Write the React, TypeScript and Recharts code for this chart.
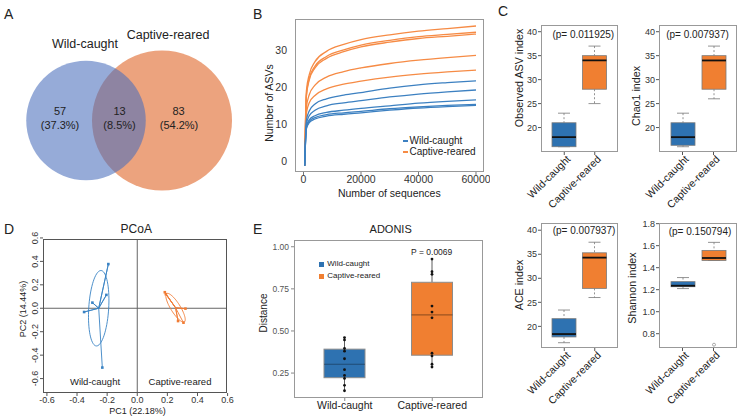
import React from "react";
import {
  Bar,
  Cell,
  ComposedChart,
  Line,
  LineChart,
  ReferenceLine,
  Scatter,
  ScatterChart,
  XAxis,
  YAxis,
  ZAxis,
} from "recharts";

const FONT = '"Liberation Sans", Arial, Helvetica, sans-serif';
const BLUE = "#2e72b1";
const ORANGE = "#f07f31";
const LINE_BLUE = "#3c80c1";
const LINE_ORANGE = "#f68b45";

// ---- A: ASV overlap between the two groups
const groups = ["Wild-caught", "Captive-reared"];
const uniqueAsvs = [57, 83];
const sharedAsvs = 13;

// ---- B: rarefaction curves (ASVs observed vs. sequencing depth)
const depths = [400, 1000, 2000, 4000, 8000, 14000, 20000, 30000, 40000, 50000, 60000];
const wildCurves = [
  [-1.3, 11, 13.6, 15.5, 16.9, 17.9, 18.6, 19.8, 20.7, 21.3, 21.8],
  [-1.3, 10, 12.3, 13.8, 15, 15.8, 16.4, 17.4, 18.2, 18.8, 19.3],
  [-1.3, 9.3, 11.2, 12.3, 13.2, 13.8, 14.3, 15.0, 15.7, 16.2, 16.6],
  [-1.3, 9, 10.8, 11.8, 12.6, 13.1, 13.5, 14.2, 14.7, 15.1, 15.4],
  [-1.3, 8.7, 10.4, 11.4, 12.2, 12.7, 13.1, 13.8, 14.4, 14.8, 15.1],
];
const captiveCurves = [
  [-1.3, 19, 23.5, 27, 29.8, 31.7, 33, 34.3, 35.3, 36.0, 36.7],
  [-1.3, 18, 22.5, 25.8, 28.4, 30.2, 31.5, 32.8, 33.8, 34.4, 35.0],
  [-1.3, 17.5, 22, 25.3, 27.9, 29.7, 31.0, 32.3, 33.3, 33.9, 34.5],
  [-1.3, 14.5, 18, 20.6, 22.8, 24.3, 25.3, 26.5, 27.4, 28.1, 28.7],
  [-1.3, 13, 15.8, 17.8, 19.6, 20.9, 21.7, 22.8, 23.6, 24.2, 24.7],
];
const rareXTicks = [0, 20000, 40000, 60000];
const rareYTicks = [0, 10, 20, 30];

// ---- C: alpha diversity, box stats as [min, q1, median, q3, max]
const observedStats = [[16, 16, 18, 21, 23], [25, 28, 34, 35, 37]];
const chao1Stats = [[16, 16.3, 18, 21, 23], [26, 28, 34, 35, 37]];
const aceStats = [[16.6, 17.8, 18.4, 21.6, 23.4], [26, 27.9, 34.3, 35.3, 37.5]];
const shannonStats = [[1.21, 1.227, 1.236, 1.273, 1.31], [1.466, 1.466, 1.488, 1.557, 1.63]];
const shannonOutliers = [[], [0.7]];
const richnessTicks = [20, 25, 30, 35, 40];
const shannonTicks = [0.8, 1.0, 1.2, 1.4, 1.6, 1.8];
const pValues = ["0.011925", "0.007937", "0.007937", "0.150794"];

// ---- D: PCoA sample scores (PC1, PC2)
const wildScores = [[-0.192, 0.377], [-0.205, 0.114], [-0.298, 0.048], [-0.353, -0.032], [-0.232, -0.506]];
const captiveScores = [[0.183, 0.137], [0.19, 0.12], [0.32, -0.003], [0.271, -0.109], [0.307, -0.123]];
const pcoaTicks = [-0.6, -0.4, -0.2, 0, 0.2, 0.4, 0.6];

// ---- E: within-group Bray-Curtis distances
const wildDistances = [0.461, 0.447, 0.396, 0.38, 0.335, 0.27, 0.236, 0.218, 0.177, 0.145];
const captiveDistances = [0.927, 0.852, 0.836, 0.648, 0.612, 0.578, 0.368, 0.352, 0.303, 0.286];
const distanceTicks = [0.25, 0.5, 0.75, 1.0];

// ---------- helpers ----------
const Txt = ({ x, y, size, rot = 0, color = "#222", children }: any) => (
  <div
    style={{
      position: "absolute",
      left: x,
      top: y,
      transform: `translate(-50%, -50%) rotate(${rot}deg)`,
      fontSize: size,
      lineHeight: 1,
      whiteSpace: "nowrap",
      color,
    }}
  >
    {children}
  </div>
);

const LeftTxt = ({ x, y, size, color = "#222", children }: any) => (
  <div
    style={{
      position: "absolute",
      left: x,
      top: y,
      transform: "translate(0, -50%)",
      fontSize: size,
      lineHeight: 1,
      whiteSpace: "nowrap",
      color,
    }}
  >
    {children}
  </div>
);

const Frame = ({ l, t, r, b, color = "#999" }: any) => (
  <div
    style={{
      position: "absolute",
      left: l,
      top: t,
      width: r - l,
      height: b - t,
      border: `1px solid ${color}`,
      boxSizing: "border-box",
      pointerEvents: "none",
    }}
  />
);

const At = ({ left, top, children }: any) => (
  <div style={{ position: "absolute", left, top }}>{children}</div>
);

const quantile = (sorted: number[], p: number) => {
  const h = (sorted.length - 1) * p;
  const lo = Math.floor(h);
  const hi = Math.min(lo + 1, sorted.length - 1);
  return sorted[lo] + (h - lo) * (sorted[hi] - sorted[lo]);
};

// 1-sd ellipse of a point cloud (as ordiellipse kind = "sd")
const sdEllipse = (pts: number[][], steps = 72) => {
  const n = pts.length;
  const mx = pts.reduce((s, p) => s + p[0], 0) / n;
  const my = pts.reduce((s, p) => s + p[1], 0) / n;
  let sxx = 0, syy = 0, sxy = 0;
  pts.forEach(([x, y]) => {
    sxx += (x - mx) ** 2;
    syy += (y - my) ** 2;
    sxy += (x - mx) * (y - my);
  });
  sxx /= n - 1; syy /= n - 1; sxy /= n - 1;
  const half = (sxx + syy) / 2;
  const root = Math.sqrt(Math.max(half * half - (sxx * syy - sxy * sxy), 0));
  const a = Math.sqrt(half + root);
  const b = Math.sqrt(Math.max(half - root, 0));
  const th = 0.5 * Math.atan2(2 * sxy, sxx - syy);
  return Array.from({ length: steps + 1 }, (_, i) => {
    const t = (2 * Math.PI * i) / steps;
    return {
      x: mx + a * Math.cos(t) * Math.cos(th) - b * Math.sin(t) * Math.sin(th),
      y: my + a * Math.cos(t) * Math.sin(th) + b * Math.sin(t) * Math.cos(th),
    };
  });
};

const centroid = (pts: number[][]) => ({
  x: pts.reduce((s, p) => s + p[0], 0) / pts.length,
  y: pts.reduce((s, p) => s + p[1], 0) / pts.length,
});

const spider = (pts: number[][]) => {
  const c = centroid(pts);
  return pts.flatMap(([x, y]) => [c, { x, y }]);
};

const Nothing = () => <g />;

// ---------- A ----------
const vennData = groups.map((g, i) => ({ group: g, x: i, y: 0, n: uniqueAsvs[i] + sharedAsvs }));
const vennTotal = uniqueAsvs[0] + uniqueAsvs[1] + sharedAsvs;
const pct = (v: number) => `(${((v / vennTotal) * 100).toFixed(1)}%)`;

const VennCircle = ({ cx, cy, width, fill, opacity }: any) => (
  <circle cx={cx} cy={cy} r={width / 2} fill={fill} fillOpacity={opacity} />
);

function VennPanel() {
  return (
    <>
      <At left={0} top={0}>
        <ScatterChart width={240} height={210} margin={{ top: 0, right: 0, bottom: 0, left: 0 }}>
          <XAxis type="number" dataKey="x" hide domain={[-1.1316, 2.0263]} allowDataOverflow />
          <YAxis type="number" dataKey="y" hide domain={[-0.7427, 1]} allowDataOverflow />
          <ZAxis type="number" dataKey="n" domain={[0, 96]} range={[0, Math.PI * 70 * 70]} />
          <Scatter
            data={[vennData[1]]}
            isAnimationActive={false}
            shape={(p: any) => <VennCircle {...p} fill="#eca37e" opacity={1} />}
          />
          <Scatter
            data={[vennData[0]]}
            isAnimationActive={false}
            shape={(p: any) => <VennCircle {...p} fill="#4a6ebc" opacity={0.58} />}
          />
        </ScatterChart>
      </At>
      <Txt x={85} y={44} size={12.5}>{groups[0]}</Txt>
      <Txt x={168} y={35} size={12.5}>{groups[1]}</Txt>
      <Txt x={60} y={111} size={11}>{uniqueAsvs[0]}</Txt>
      <Txt x={60} y={124.5} size={11}>{pct(uniqueAsvs[0])}</Txt>
      <Txt x={119.5} y={111} size={11}>{sharedAsvs}</Txt>
      <Txt x={119.5} y={124.5} size={11}>{pct(sharedAsvs)}</Txt>
      <Txt x={178.5} y={111} size={11}>{uniqueAsvs[1]}</Txt>
      <Txt x={179} y={124.5} size={11}>{pct(uniqueAsvs[1])}</Txt>
    </>
  );
}

// ---------- B ----------
const rareRows = depths.map((d, i) => {
  const row: Record<string, number> = { depth: d };
  wildCurves.forEach((c, j) => (row[`w${j}`] = c[i]));
  captiveCurves.forEach((c, j) => (row[`c${j}`] = c[i]));
  return row;
});

function RarefactionPanel() {
  return (
    <>
      <At left={240} top={0}>
        <LineChart width={250} height={205} data={rareRows} margin={{ top: 19, right: 6, left: 25, bottom: 8 }}>
          <XAxis
            type="number"
            dataKey="depth"
            domain={[-2957, 62783]}
            allowDataOverflow
            ticks={rareXTicks}
            height={25}
            axisLine={false}
            tickSize={3}
            tickMargin={1}
            tickLine={{ stroke: "#777" }}
            tick={{ fontSize: 10.5, fill: "#333", fontFamily: FONT }}
          />
          <YAxis
            type="number"
            domain={[-3, 38.6]}
            allowDataOverflow
            ticks={rareYTicks}
            width={30}
            axisLine={false}
            tickLine={false}
            tickMargin={2}
            tick={{ fontSize: 10.5, fill: "#333", fontFamily: FONT }}
          />
          {captiveCurves.map((_, j) => (
            <Line key={`c${j}`} dataKey={`c${j}`} type="monotone" stroke={LINE_ORANGE} strokeWidth={1.3} dot={false} isAnimationActive={false} />
          ))}
          {wildCurves.map((_, j) => (
            <Line key={`w${j}`} dataKey={`w${j}`} type="monotone" stroke={LINE_BLUE} strokeWidth={1.3} dot={false} isAnimationActive={false} />
          ))}
        </LineChart>
      </At>
      <Frame l={295} t={19} r={484} b={172} color="#999" />
      <Txt x={268.5} y={103} size={10.5} rot={-90}>Number of ASVs</Txt>
      <Txt x={389.3} y={192.5} size={10.5}>Number of sequences</Txt>
      <div style={{ position: "absolute", left: 403, top: 140.3, width: 5, height: 1.5, background: LINE_BLUE }} />
      <div style={{ position: "absolute", left: 403, top: 151, width: 5, height: 1.5, background: LINE_ORANGE }} />
      <LeftTxt x={409.5} y={141} size={10}>{groups[0]}</LeftTxt>
      <LeftTxt x={409.5} y={151.7} size={10}>{groups[1]}</LeftTxt>
    </>
  );
}

// ---------- C ----------
const RBox = (props: any) => {
  const { x, y, width, height, payload, fill } = props;
  const top = Math.min(y, y + height);
  const h = Math.abs(height);
  const k = h / (payload.q3 - payload.q1);
  const py = (v: number) => top + (payload.q3 - v) * k;
  const cx = x + width / 2;
  const cap = width / 4;
  return (
    <g>
      <line x1={cx} x2={cx} y1={py(payload.max)} y2={top} stroke="#777" strokeWidth={0.8} strokeDasharray="2 2" />
      <line x1={cx} x2={cx} y1={top + h} y2={py(payload.min)} stroke="#777" strokeWidth={0.8} strokeDasharray="2 2" />
      <line x1={cx - cap} x2={cx + cap} y1={py(payload.max)} y2={py(payload.max)} stroke="#777" strokeWidth={0.8} />
      <line x1={cx - cap} x2={cx + cap} y1={py(payload.min)} y2={py(payload.min)} stroke="#777" strokeWidth={0.8} />
      <rect x={x} y={top} width={width} height={h} fill={fill} stroke="#7a7a7a" strokeWidth={0.8} />
      <line x1={x} x2={x + width} y1={py(payload.med)} y2={py(payload.med)} stroke="#111" strokeWidth={1.8} />
      {(payload.out || []).map((v: number, i: number) => (
        <circle key={i} cx={cx} cy={py(v)} r={1.5} fill="none" stroke="#888" strokeWidth={0.7} />
      ))}
    </g>
  );
};

const SlantTick = ({ x, y, payload }: any) => (
  <text
    x={x + 4}
    y={y + 2}
    transform={`rotate(-45 ${x + 4} ${y + 2})`}
    textAnchor="end"
    dominantBaseline="central"
    fontSize={10.5}
    fill="#222"
    fontFamily={FONT}
  >
    {payload.value}
  </text>
);

const boxRows = (stats: number[][], outliers: number[][] = [[], []]) =>
  groups.map((g, i) => ({
    group: g,
    min: stats[i][0],
    q1: stats[i][1],
    med: stats[i][2],
    q3: stats[i][3],
    max: stats[i][4],
    out: outliers[i],
  }));

function AlphaBox({ frame, rows, domain, ticks, digits, label, labelPos, p, pPos }: any) {
  const [l, t, r, b] = frame;
  const w = r - l + 43;
  const h = b - t + 75;
  return (
    <>
      <At left={l - 41} top={t - 10}>
        <ComposedChart width={w} height={h} data={rows} margin={{ top: 10, right: 2, left: 0, bottom: h - 10 - (b - t) - 55 }}>
          <XAxis
            dataKey="group"
            type="category"
            interval={0}
            height={55}
            padding={{ left: 8, right: 8 }}
            axisLine={false}
            tickSize={3}
            tickMargin={0}
            tickLine={{ stroke: "#555" }}
            tick={(tp: any) => <SlantTick {...tp} />}
          />
          <YAxis
            type="number"
            domain={domain}
            allowDataOverflow
            ticks={ticks}
            width={41}
            axisLine={false}
            tickSize={3}
            tickMargin={1}
            tickLine={{ stroke: "#555" }}
            tickFormatter={(v: number) => v.toFixed(digits)}
            tick={{ fontSize: 9, fill: "#333", fontFamily: FONT }}
          />
          <Bar dataKey={(d: any) => [d.q1, d.q3]} barSize={24} shape={(bp: any) => <RBox {...bp} />} isAnimationActive={false}>
            {rows.map((_: any, i: number) => (
              <Cell key={i} fill={i === 0 ? BLUE : ORANGE} />
            ))}
          </Bar>
        </ComposedChart>
      </At>
      <Frame l={l} t={t} r={r} b={b} color="#999" />
      <Txt x={labelPos[0]} y={labelPos[1]} size={10.7} rot={-90}>{label}</Txt>
      <Txt x={pPos[0]} y={pPos[1]} size={10}>{`(p= ${p})`}</Txt>
    </>
  );
}

// ---------- D ----------
const toXY = (pts: number[][]) => pts.map(([x, y]) => ({ x, y }));

const VertTick = ({ x, y, payload }: any) => (
  <text
    x={x - 1}
    y={y}
    transform={`rotate(-90 ${x - 1} ${y})`}
    textAnchor="middle"
    fontSize={9}
    fill="#333"
    fontFamily={FONT}
  >
    {Number(payload.value).toFixed(1)}
  </text>
);

const Dot = (color: string) => (p: any) => (
  <rect x={p.cx - 1.3} y={p.cy - 1.3} width={2.6} height={2.6} fill={color} />
);

function PcoaPanel() {
  const D_BLUE = "#3a83c4";
  const D_ORANGE = "#f07c35";
  return (
    <>
      <At left={0} top={210}>
        <ScatterChart width={240} height={206} margin={{ top: 29, right: 13, left: 13, bottom: 3 }}>
          <XAxis
            type="number"
            dataKey="x"
            domain={[-0.626, 0.596]}
            allowDataOverflow
            ticks={pcoaTicks}
            height={20}
            axisLine={false}
            tickSize={3}
            tickMargin={1}
            tickLine={{ stroke: "#555" }}
            tickFormatter={(v: number) => v.toFixed(1)}
            tick={{ fontSize: 9, fill: "#333", fontFamily: FONT }}
          />
          <YAxis
            type="number"
            dataKey="y"
            domain={[-0.723, 0.591]}
            allowDataOverflow
            ticks={pcoaTicks}
            width={30}
            axisLine={false}
            tickSize={3}
            tickMargin={1}
            tickLine={{ stroke: "#555" }}
            tick={(tp: any) => <VertTick {...tp} />}
          />
          <ReferenceLine x={0} stroke="#666" strokeWidth={1} />
          <ReferenceLine y={0} stroke="#666" strokeWidth={1} />
          <Scatter data={sdEllipse(wildScores)} line={{ stroke: D_BLUE, strokeWidth: 0.9 }} shape={Nothing} isAnimationActive={false} />
          <Scatter data={spider(wildScores)} line={{ stroke: D_BLUE, strokeWidth: 0.9 }} shape={Nothing} isAnimationActive={false} />
          <Scatter data={toXY(wildScores)} shape={Dot(D_BLUE)} isAnimationActive={false} />
          <Scatter data={sdEllipse(captiveScores)} line={{ stroke: D_ORANGE, strokeWidth: 0.9 }} shape={Nothing} isAnimationActive={false} />
          <Scatter data={spider(captiveScores)} line={{ stroke: D_ORANGE, strokeWidth: 0.9 }} shape={Nothing} isAnimationActive={false} />
          <Scatter data={toXY(captiveScores)} shape={Dot(D_ORANGE)} isAnimationActive={false} />
        </ScatterChart>
      </At>
      <Frame l={43} t={239} r={227} b={393} color="#555" />
      <Txt x={136.3} y={229.3} size={12}>PCoA</Txt>
      <Txt x={137.5} y={410.5} size={9}>PC1 (22.18%)</Txt>
      <Txt x={22.5} y={309} size={9} rot={-90}>PC2 (14.44%)</Txt>
      <Txt x={95} y={381.7} size={9.5}>{groups[0]}</Txt>
      <Txt x={180} y={381.7} size={9.5}>{groups[1]}</Txt>
    </>
  );
}

// ---------- E ----------
const distRows = [wildDistances, captiveDistances].map((vals, i) => {
  const s = [...vals].sort((a, b) => a - b);
  return {
    group: groups[i],
    min: s[0],
    q1: quantile(s, 0.25),
    med: quantile(s, 0.5),
    q3: quantile(s, 0.75),
    max: s[s.length - 1],
    pts: vals,
  };
});

const GgBox = (props: any) => {
  const { x, y, width, height, payload, fill } = props;
  const top = Math.min(y, y + height);
  const h = Math.abs(height);
  const k = h / (payload.q3 - payload.q1);
  const py = (v: number) => top + (payload.q3 - v) * k;
  const cx = x + width / 2;
  return (
    <g>
      <line x1={cx} x2={cx} y1={py(payload.max)} y2={top} stroke="#333" strokeWidth={0.8} />
      <line x1={cx} x2={cx} y1={top + h} y2={py(payload.min)} stroke="#333" strokeWidth={0.8} />
      <rect x={x} y={top} width={width} height={h} fill={fill} stroke="#8c8c8c" strokeWidth={1} />
      <line x1={x} x2={x + width} y1={py(payload.med)} y2={py(payload.med)} stroke="#000" strokeOpacity={0.35} strokeWidth={1.2} />
      {payload.pts.map((v: number, i: number) => (
        <circle key={i} cx={cx} cy={py(v)} r={1.4} fill="#111" />
      ))}
    </g>
  );
};

function AdonisPanel() {
  return (
    <>
      <At left={250} top={210}>
        <ComposedChart width={240} height={206} data={distRows} margin={{ top: 30, right: 7, left: 10, bottom: 4 }}>
          <XAxis
            dataKey="group"
            type="category"
            interval={0}
            height={14}
            padding={{ left: 7, right: 7 }}
            axisLine={false}
            tickSize={3}
            tickMargin={1}
            tickLine={{ stroke: "#888" }}
            tick={{ fontSize: 10.5, fill: "#222", fontFamily: FONT }}
          />
          <YAxis
            type="number"
            domain={[0.102, 1.04]}
            allowDataOverflow
            ticks={distanceTicks}
            width={34}
            axisLine={false}
            tickSize={3}
            tickMargin={2}
            tickLine={{ stroke: "#888" }}
            tickFormatter={(v: number) => v.toFixed(2)}
            tick={{ fontSize: 8.5, fill: "#555", fontFamily: FONT }}
          />
          <Bar dataKey={(d: any) => [d.q1, d.q3]} barSize={41} shape={(bp: any) => <GgBox {...bp} />} isAnimationActive={false}>
            {distRows.map((_, i) => (
              <Cell key={i} fill={i === 0 ? BLUE : ORANGE} />
            ))}
          </Bar>
        </ComposedChart>
      </At>
      <Frame l={294} t={240} r={483} b={398} color="#999" />
      <Txt x={390.7} y={229.3} size={11}>ADONIS</Txt>
      <Txt x={263.7} y={312.5} size={10} rot={-90}>Distance</Txt>
      <Txt x={431.7} y={251.7} size={8.5}>P = 0.0069</Txt>
      <div style={{ position: "absolute", left: 318.5, top: 261.7, width: 5.5, height: 5, background: BLUE }} />
      <div style={{ position: "absolute", left: 318.5, top: 273.7, width: 5.5, height: 5, background: ORANGE }} />
      <LeftTxt x={327.3} y={264.3} size={8}>{groups[0]}</LeftTxt>
      <LeftTxt x={327.3} y={276.3} size={8}>{groups[1]}</LeftTxt>
    </>
  );
}

export default function App() {
  return (
    <div
      style={{
        position: "absolute",
        left: 0,
        top: 0,
        width: 740,
        height: 416,
        background: "#fff",
        fontFamily: FONT,
        overflow: "hidden",
      }}
    >
      <VennPanel />
      <RarefactionPanel />
      <AlphaBox
        frame={[541, 25, 618, 152]}
        rows={boxRows(observedStats)}
        domain={[14.9, 41.4]}
        ticks={richnessTicks}
        digits={0}
        label="Observed ASV index"
        labelPos={[519, 77.5]}
        p={pValues[0]}
        pPos={[583.3, 35]}
      />
      <AlphaBox
        frame={[659, 25, 737, 152]}
        rows={boxRows(chao1Stats)}
        domain={[14.9, 41.4]}
        ticks={richnessTicks}
        digits={0}
        label="Chao1 index"
        labelPos={[635.5, 96.3]}
        p={pValues[1]}
        pPos={[697.5, 35]}
      />
      <AlphaBox
        frame={[541, 223, 618, 348]}
        rows={boxRows(aceStats)}
        domain={[15.5, 41.5]}
        ticks={richnessTicks}
        digits={0}
        label="ACE index"
        labelPos={[519.2, 285]}
        p={pValues[2]}
        pPos={[584, 230.7]}
      />
      <AlphaBox
        frame={[659, 223, 737, 348]}
        rows={boxRows(shannonStats, shannonOutliers)}
        domain={[0.67, 1.806]}
        ticks={shannonTicks}
        digits={1}
        label="Shannon index"
        labelPos={[631.7, 288.3]}
        p={pValues[3]}
        pPos={[700, 231.7]}
      />
      <PcoaPanel />
      <AdonisPanel />
      <LeftTxt x={4} y={13.5} size={14}>A</LeftTxt>
      <LeftTxt x={253} y={13.7} size={14}>B</LeftTxt>
      <LeftTxt x={498} y={11} size={14}>C</LeftTxt>
      <LeftTxt x={4} y={229} size={14}>D</LeftTxt>
      <LeftTxt x={253} y={229.3} size={14}>E</LeftTxt>
    </div>
  );
}
